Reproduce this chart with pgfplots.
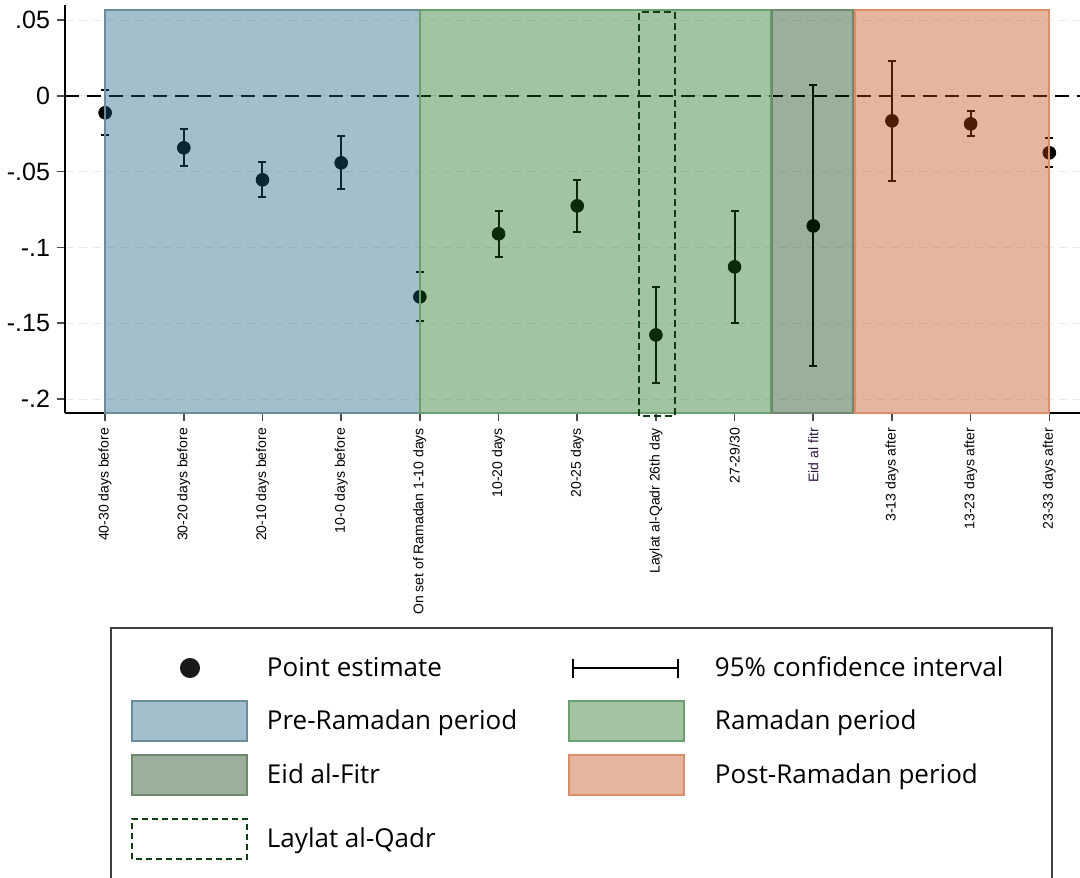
\documentclass[border=0pt]{standalone}
\usepackage{fontspec}
\setmainfont{Open Sans}
\newfontfamily\arial{Liberation Sans}
\usepackage{pgfplots}
\usepackage{pgfplotstable}
\pgfplotsset{compat=1.18}
\definecolor{preB}{RGB}{25,95,128}
\definecolor{preE}{RGB}{106,140,156}
\definecolor{ramB}{RGB}{25,107,25}
\definecolor{ramE}{RGB}{106,160,112}
\definecolor{eidB}{RGB}{8,55,8}
\definecolor{eidE}{RGB}{109,138,109}
\definecolor{postB}{RGB}{190,72,12}
\definecolor{postE}{RGB}{223,141,104}
\definecolor{laylat}{RGB}{18,60,20}
\definecolor{eidlab}{RGB}{45,22,60}
\pgfplotstableread{
x y ep em
0 -0.0112 0.0152 0.0145
1 -0.0343 0.0125 0.0119
2 -0.0554 0.0119 0.0112
3 -0.0442 0.0178 0.0171
4 -0.1326 0.0165 0.0158
5 -0.0910 0.0151 0.0152
6 -0.0726 0.0172 0.0171
7 -0.1577 0.0317 0.0316
8 -0.1128 0.0369 0.0369
9 -0.0858 0.0931 0.0923
10 -0.0165 0.0396 0.0396
11 -0.0185 0.0086 0.0079
12 -0.0376 0.0099 0.0092
}\est
\begin{document}
\begin{tikzpicture}
\begin{axis}[name=ax, scale only axis, width=507.5pt, height=204pt,
 xmin=-0.51, xmax=12.39, ymin=-0.2092, ymax=0.0599,
 axis lines*=left, axis line style={line width=0.75pt, black},
 clip=false, clip marker paths=true,
 xtick={0,1,2,3,4,5,6,7,8,9,10,11,12},
 xticklabels={40-30 days before,30-20 days before,20-10 days before,10-0 days before,On set of Ramadan 1-10 days,10-20 days,20-25 days,Laylat al-Qadr 26th day,27-29/30,{\color{eidlab}Eid al fitr},3-13 days after,13-23 days after,23-33 days after},
 ytick={-0.2,-0.15,-0.1,-0.05,0,0.05},
 yticklabels={-.2,-.15,-.1,-.05,0,.05},
 tick align=outside, major tick length=4pt, tick style={line width=0.8pt, black!70},
 ymajorgrids, grid style={line width=0.5pt, black!9, dash pattern=on 4pt off 3pt},
 x tick label style={rotate=90, anchor=east, font=\arial\fontsize{7}{8}\selectfont},
 y tick label style={font=\arial\fontsize{12.5}{14}\selectfont},
 legend columns=2, legend cell align=left,
 legend style={draw=black!75, line width=1pt, fill=white,
   at={(rel axis cs:0.04433,-0.5245)}, anchor=north west,
   inner xsep=10pt, inner ysep=10pt, row sep=6pt, column sep=0pt,
   nodes={inner sep=0pt, font=\fontsize{13}{15}\selectfont}},
]
\addplot[black, line width=0.9pt, dash pattern=on 7pt off 4pt, forget plot] coordinates {(-0.51,0) (12.39,0)};
\addplot[only marks, mark=*, mark size=3.2pt, black, forget plot,
  error bars/.cd, y dir=both, y explicit,
  error bar style={line width=1pt, black},
  error mark options={rotate=90, mark size=2pt, line width=1pt, black}]
  table[x=x, y=y, y error plus=ep, y error minus=em]{\est};
\addplot[fill=preB, fill opacity=0.4, draw=preE, line width=1pt, forget plot] coordinates {(0,-0.2092) (0,0.0567) (4,0.0567) (4,-0.2092)} -- cycle;
\addplot[fill=ramB, fill opacity=0.4, draw=ramE, line width=1pt, forget plot] coordinates {(4,-0.2092) (4,0.0567) (8.46,0.0567) (8.46,-0.2092)} -- cycle;
\addplot[fill=eidB, fill opacity=0.4, draw=eidE, line width=1pt, forget plot] coordinates {(8.47,-0.2092) (8.47,0.0567) (9.51,0.0567) (9.51,-0.2092)} -- cycle;
\addplot[fill=postB, fill opacity=0.4, draw=postE, line width=1pt, forget plot] coordinates {(9.53,-0.2092) (9.53,0.0567) (11.99,0.0567) (11.99,-0.2092)} -- cycle;
\addplot[draw=laylat, line width=1.1pt, dash pattern=on 3.5pt off 2pt, forget plot] coordinates {(6.785,-0.2111) (6.785,0.0554) (7.24,0.0554) (7.24,-0.2111)} -- cycle;
% legend
\addlegendimage{legend image code/.code={\path[draw=none,fill=none] (0pt,-10pt) rectangle (57.5pt,10pt); \fill[black!90] (29pt,0pt) circle (4.5pt);}}
\addlegendentry{\makebox[160pt][l]{\hspace{9.5pt}Point estimate}}
\addlegendimage{legend image code/.code={\path[draw=none,fill=none] (0pt,-10pt) rectangle (57.5pt,10pt); \draw[line width=1pt, black] (2pt,0pt) -- (54.3pt,0pt); \draw[line width=1pt, black] (2pt,-4.75pt) -- (2pt,4.75pt); \draw[line width=1pt, black] (54.3pt,-4.75pt) -- (54.3pt,4.75pt);}}
\addlegendentry{\makebox[173.5pt][l]{\hspace{15pt}95\% confidence interval}}
\addlegendimage{legend image code/.code={\draw[fill=preB, fill opacity=0.4, draw=preE, line width=1pt] (0pt,-10pt) rectangle (57.5pt,10pt);}}
\addlegendentry{\makebox[160pt][l]{\hspace{9.5pt}Pre-Ramadan period}}
\addlegendimage{legend image code/.code={\draw[fill=ramB, fill opacity=0.4, draw=ramE, line width=1pt] (0pt,-10pt) rectangle (57.5pt,10pt);}}
\addlegendentry{\makebox[173.5pt][l]{\hspace{15pt}Ramadan period}}
\addlegendimage{legend image code/.code={\draw[fill=eidB, fill opacity=0.4, draw=eidE, line width=1pt] (0pt,-10pt) rectangle (57.5pt,10pt);}}
\addlegendentry{\makebox[160pt][l]{\hspace{9.5pt}Eid al-Fitr}}
\addlegendimage{legend image code/.code={\draw[fill=postB, fill opacity=0.4, draw=postE, line width=1pt] (0pt,-10pt) rectangle (57.5pt,10pt);}}
\addlegendentry{\makebox[173.5pt][l]{\hspace{15pt}Post-Ramadan period}}
\addlegendimage{legend image code/.code={\path[draw=none,fill=none] (0pt,-20pt) rectangle (57.5pt,15.5pt); \draw[draw=laylat, line width=1pt, dash pattern=on 3pt off 2pt] (0pt,-10pt) rectangle (57.5pt,10pt);}}
\addlegendentry{\makebox[160pt][l]{\hspace{9.5pt}Laylat al-Qadr}}
\end{axis}
\pgfresetboundingbox
\useasboundingbox ([xshift=-32.5pt,yshift=-232pt]ax.south west) rectangle ([xshift=507.5pt,yshift=206.5pt]ax.south west);
\end{tikzpicture}
\end{document}
